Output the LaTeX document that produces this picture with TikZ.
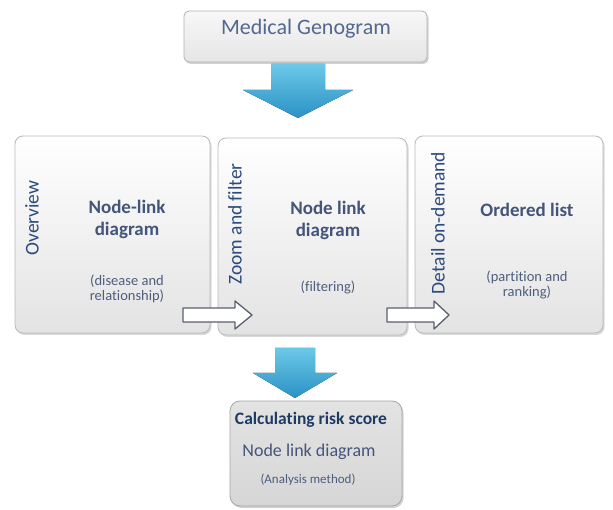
\documentclass[tikz,border=0pt]{standalone}
\usepackage{fontspec}
\setmainfont{Carlito}[Ligatures=NoCommon]
\usetikzlibrary{shadows}
\definecolor{labelblue}{HTML}{2B4A7E}
\definecolor{titleblue}{HTML}{44557A}
\definecolor{subblue}{HTML}{4E5E7C}
\definecolor{topblue}{HTML}{53688F}
\definecolor{darkblue}{HTML}{1F3B63}
\definecolor{arrowtop}{HTML}{6CC8E8}
\definecolor{arrowbot}{HTML}{2A92C4}
\definecolor{arrowedge}{HTML}{5A6070}
\tikzset{
  panel/.style={draw=gray!55, line width=0.8pt, rounded corners=8pt, top color=white, bottom color=gray!22,
    drop shadow={shadow xshift=1.5pt, shadow yshift=-2pt, opacity=0.3}, inner sep=0pt},
  topbox/.style={draw=gray!60, line width=0.8pt, rounded corners=5pt, top color=gray!6, bottom color=gray!20,
    drop shadow={shadow xshift=1.5pt, shadow yshift=-2pt, opacity=0.35}, inner sep=0pt},
  botbox/.style={draw=gray!70, line width=0.8pt, rounded corners=10pt, top color=gray!22, bottom color=gray!32,
    drop shadow={shadow xshift=1.5pt, shadow yshift=-2pt, opacity=0.35}, inner sep=0pt},
  sidelabel/.style={rotate=90, text=labelblue, font=\fontsize{19.5}{22}\selectfont, inner sep=0pt},
  paneltitle/.style={text=titleblue, font=\fontsize{19}{22}\selectfont\bfseries, align=center, inner sep=0pt},
  panelsub/.style={text=subblue, font=\fontsize{14.5}{15}\selectfont, align=center, inner sep=0pt},
  bluearrow/.style={top color=arrowtop, bottom color=arrowbot, draw=none},
  whitearrow/.style={fill=white, draw=arrowedge, line width=1.3pt, line join=round},
}
\begin{document}
\begin{tikzpicture}[x=1pt,y=-1pt]
\useasboundingbox (0,0) rectangle (613,510);
\fill[white] (0,0) rectangle (613,510);

% top box
\node[topbox, minimum width=243pt, minimum height=51pt] (top) at (305.5,36.5) {};
\node[text=topblue, font=\fontsize{22}{24}\selectfont, inner sep=0pt] (toptext) at (306,29) {Medical Genogram};

% panels
\node[panel, minimum width=195pt, minimum height=197pt] (p1) at (112.5,234.5) {};
\node[panel, minimum width=189pt, minimum height=197pt] (p2) at (312.5,236.5) {};
\node[panel, minimum width=188pt, minimum height=197pt] (p3) at (509,234.5) {};

% bottom box
\node[botbox, minimum width=172pt, minimum height=105pt] (bot) at (316,453.5) {};

% blue arrows
\coordinate (a1) at (298,64);
\fill[bluearrow] (a1) ++(-27,0) -- ++(54,0) -- ++(0,26) -- ++(28,0) -- (298,118) -- (243,90) -- (271,90) -- cycle;
\coordinate (a2) at (295,348);
\fill[bluearrow] (a2) ++(-20,0) -- ++(40,0) -- ++(0,25) -- ++(22,0) -- (295,398) -- (253,373) -- (275,373) -- cycle;

% white arrows between panels
\draw[whitearrow] (183,308) -- (235,308) -- (235,301) -- (252,315) -- (235,329) -- (235,322) -- (183,322) -- cycle;
\draw[whitearrow] (387,308) -- (434,308) -- (434,301) -- (449,315) -- (434,329) -- (434,322) -- (387,322) -- cycle;

% side labels
\node[sidelabel] (l1) at (32,218) {Overview};
\node[sidelabel] (l2) at (235,224) {Zoom and filter};
\node[sidelabel] (l3) at (438,223) {Detail on-demand};

% panel texts
\node[paneltitle] (t1) at (127,219) {Node-link\\diagram};
\node[panelsub] (s1) at (127,289) {(disease and\\relationship)};
\node[paneltitle] (t2) at (328,220) {Node link\\diagram};
\node[panelsub] (s2) at (328,287) {(filtering)};
\node[paneltitle] (t3) at (527,210) {Ordered list};
\node[panelsub] (s3) at (527,285) {(partition and\\ranking)};

% bottom texts
\node[text=darkblue, font=\fontsize{17.5}{20}\selectfont\bfseries, inner sep=0pt] (b1) at (311,420) {Calculating risk score};
\node[text=titleblue, font=\fontsize{18}{20}\selectfont, inner sep=0pt] (b2) at (309,452) {Node link diagram};
\node[text=subblue, font=\fontsize{13}{14}\selectfont, inner sep=0pt] (b3) at (308,480) {(Analysis method)};
\end{tikzpicture}
\end{document}
